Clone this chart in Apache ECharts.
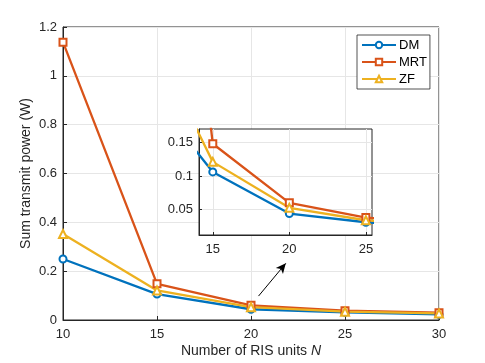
<!DOCTYPE html>
<html>
<head>
<meta charset="utf-8">
<script src="https://cdn.jsdelivr.net/npm/echarts@6/dist/echarts.min.js"></script>
<style>
  html, body { margin: 0; padding: 0; background: #fff; }
  #chart { width: 485px; height: 363px; }
</style>
</head>
<body>
<div id="chart"></div>
<script>
  // number of RIS units
  var risUnits = [10, 15, 20, 25, 30]
  // sum transmit power (W)
  var dmPower = [0.25, 0.106, 0.044, 0.031, 0.023]
  var mrtPower = [1.138, 0.148, 0.060, 0.038, 0.030]
  var zfPower = [0.352, 0.121, 0.0525, 0.034, 0.027]

  var xTicks = [10, 15, 20, 25, 30]
  var yTicks = [0, 0.2, 0.4, 0.6, 0.8, 1, 1.2]
  var insetXTicks = [15, 20, 25]
  var insetYTicks = [0.05, 0.1, 0.15]

  var textColor = '#262626'
  var font = 'Liberation Sans'

  function pairs (ys) {
    return risUnits.map(function (x, i) { return [x, ys[i]] })
  }

  var myChart = echarts.init(document.getElementById('chart'))

  var lines = [
    { name: 'DM', data: dmPower, color: '#0072BD', symbol: 'emptyCircle', size: 7 },
    { name: 'MRT', data: mrtPower, color: '#D95319', symbol: 'emptyRect', size: 7 },
    { name: 'ZF', data: zfPower, color: '#EDB120', symbol: 'emptyTriangle', size: 8 }
  ]

  var series = []
  lines.forEach(function (l) {
    series.push({
      name: l.name,
      type: 'line',
      xAxisIndex: 0,
      yAxisIndex: 0,
      data: pairs(l.data),
      symbol: l.symbol,
      symbolSize: l.size,
      itemStyle: { color: l.color, borderWidth: 2 },
      lineStyle: { color: l.color, width: 2.3 },
      z: 2
    })
  })
  lines.forEach(function (l) {
    series.push({
      name: l.name,
      type: 'line',
      xAxisIndex: 1,
      yAxisIndex: 1,
      data: pairs(l.data),
      symbol: l.symbol,
      symbolSize: l.size,
      clip: true,
      itemStyle: { color: l.color, borderWidth: 2 },
      lineStyle: { color: l.color, width: 2.3 },
      z: 6
    })
  })
  // arrow pointing at the zoomed region
  series.push({
    type: 'line',
    xAxisIndex: 0,
    yAxisIndex: 0,
    data: [],
    silent: true,
    markLine: {
      silent: true,
      symbol: ['none', 'arrow'],
      symbolSize: [7, 10],
      label: { show: false },
      lineStyle: { color: '#000', width: 1, type: 'solid' },
      data: [[{ coord: [20.4, 0.098] }, { coord: [21.85, 0.232] }]]
    }
  })

  var gridLine = { show: true, lineStyle: { color: '#e6e6e6', width: 1 } }

  var option = {
    animation: false,
    textStyle: { fontFamily: font },
    grid: [
      { left: 63, right: 46, top: 27, bottom: 43, show: true, borderColor: textColor, borderWidth: 1, backgroundColor: '#fff', z: 0 },
      { left: 199, top: 129, width: 173, height: 106, show: true, borderColor: textColor, borderWidth: 1, backgroundColor: '#fff', z: 3 }
    ],
    legend: {
      orient: 'vertical',
      left: 357,
      top: 35,
      data: ['DM', 'MRT', 'ZF'],
      backgroundColor: '#fff',
      borderColor: textColor,
      borderWidth: 0.8,
      borderRadius: 0,
      padding: [3, 3, 3, 4],
      itemWidth: 34,
      itemHeight: 8,
      itemGap: 3,
      textStyle: { fontSize: 13, lineHeight: 14, color: '#000', fontFamily: font, padding: [0, 0, 0, -2] },
      z: 10
    },
    xAxis: [
      {
        type: 'value', gridIndex: 0, min: 10, max: 30, interval: 5,
        name: '{a|Number of RIS units }{b|N}', nameLocation: 'middle', nameGap: 24, nameMoveOverlap: false,
        nameTextStyle: { rich: { a: { fontSize: 14, color: textColor, fontFamily: font }, b: { fontSize: 14, color: textColor, fontStyle: 'italic', fontFamily: font } } },
        axisLine: { show: true, onZero: false, lineStyle: { color: textColor } },
        axisTick: { show: true, inside: true, length: 4, lineStyle: { color: textColor } },
        axisLabel: { fontSize: 13, color: textColor, margin: 8, customValues: xTicks },
        splitLine: gridLine
      },
      {
        type: 'value', gridIndex: 1, min: 14.1, max: 25.4, z: 4,
        axisLine: { show: true, onZero: false, lineStyle: { color: textColor } },
        axisTick: { show: true, inside: true, length: 3, lineStyle: { color: textColor }, customValues: insetXTicks },
        axisLabel: { fontSize: 13, color: textColor, margin: 8, customValues: insetXTicks },
        splitLine: gridLine
      }
    ],
    yAxis: [
      {
        type: 'value', gridIndex: 0, min: 0, max: 1.2, interval: 0.2,
        name: 'Sum transmit power (W)', nameLocation: 'middle', nameGap: 30, nameMoveOverlap: false,
        nameTextStyle: { fontSize: 14, color: textColor, fontFamily: font },
        axisLine: { show: true, onZero: false, lineStyle: { color: textColor } },
        axisTick: { show: true, inside: true, length: 4, lineStyle: { color: textColor } },
        axisLabel: { fontSize: 13, color: textColor, margin: 6, customValues: yTicks },
        splitLine: gridLine
      },
      {
        type: 'value', gridIndex: 1, min: 0.012, max: 0.17, z: 4,
        axisLine: { show: true, onZero: false, lineStyle: { color: textColor } },
        axisTick: { show: true, inside: true, length: 3, lineStyle: { color: textColor }, customValues: insetYTicks },
        axisLabel: { fontSize: 13, color: textColor, margin: 6, customValues: insetYTicks },
        splitLine: gridLine
      }
    ],
    series: series
  }

  myChart.setOption(option)
</script>
</body>
</html>
